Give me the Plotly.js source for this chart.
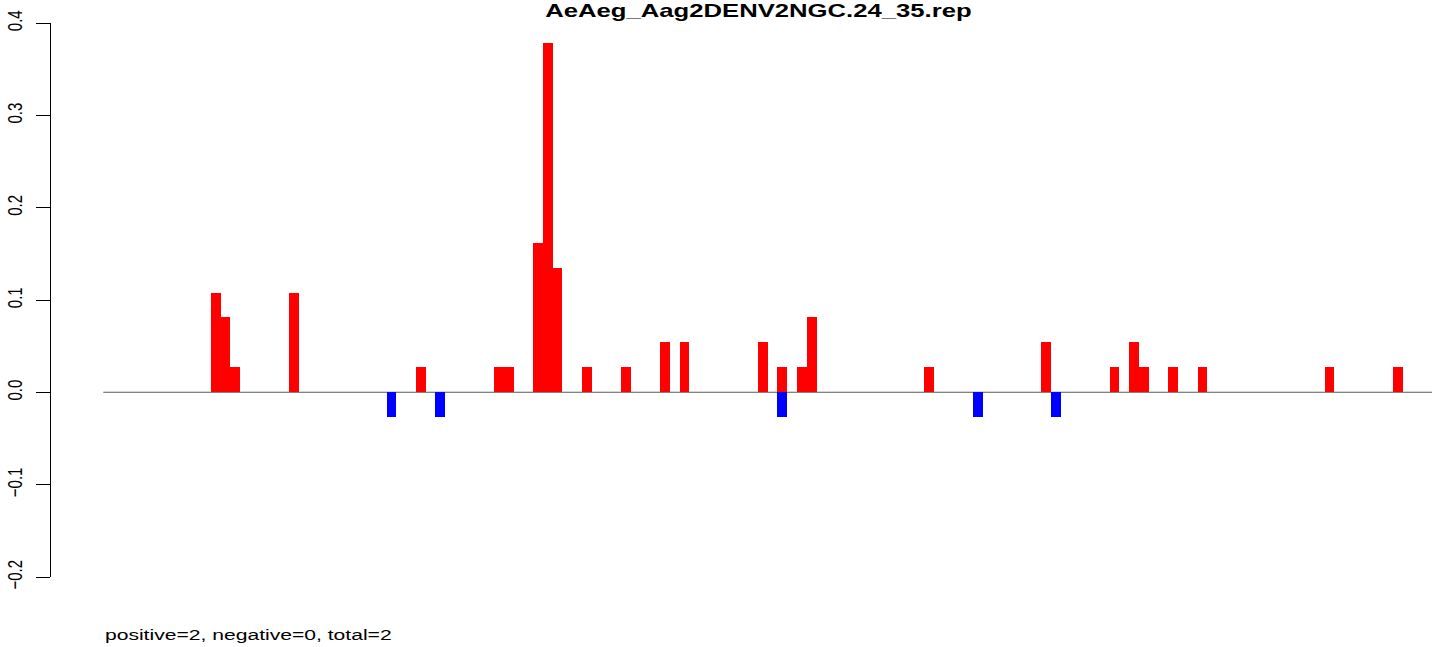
<!DOCTYPE html>
<html>
<head>
<meta charset="utf-8">
<script src="https://cdn.plot.ly/plotly-3.0.1.min.js"></script>
<style>
  html, body { margin: 0; padding: 0; background: #fff; overflow: hidden; }
  #chart { width: 1043px; height: 647px; transform-origin: 0 0; }
</style>
</head>
<body>
<div id="chart"></div>
<script>
// ---- data ----
const titleText = "AeAeg_Aag2DENV2NGC.24_35.rep";
const footText = "positive=2, negative=0, total=2";

const redPos = [12, 13, 14, 20, 33, 41, 42, 45, 46, 47, 50, 54, 58, 60, 68, 70, 72, 73, 85, 97, 104, 106, 107, 110, 113, 126, 133];
const redVal = [0.1081, 0.0811, 0.0270, 0.1081, 0.0270, 0.0270, 0.0270, 0.1622, 0.3784, 0.1351, 0.0270, 0.0270, 0.0541, 0.0541, 0.0541, 0.0270, 0.0270, 0.0811, 0.0270, 0.0541, 0.0270, 0.0541, 0.0270, 0.0270, 0.0270, 0.0270, 0.0270];

const bluePos = [30, 35, 70, 90, 98];
const blueVal = [-0.0270, -0.0270, -0.0270, -0.0270, -0.0270];

const yTickVals = [-0.2, -0.1, 0.0, 0.1, 0.2, 0.3, 0.4];
const yTickText = ["\u22120.2", "\u22120.1", "0.0", "0.1", "0.2", "0.3", "0.4"];

const baselineFrom = 0.5;
const baselineTo = 136.5;

// ---- geometry (base frame, later stretched horizontally) ----
const W = 1043, H = 647;
const K = 1439 / W;
const mL = 37, mR = 5, mT = 23, mB = 70;
const px0 = 103.3 / K, px1 = 1432 / K;
const ppu = (px1 - px0) / (baselineTo - baselineFrom);
const xMin = baselineFrom - (px0 - mL) / ppu;
const xMax = baselineTo + ((W - mR) - px1) / ppu;

const font = "Liberation Sans, Arial, Helvetica, sans-serif";

const traces = [
  { type: "bar", x: redPos, y: redVal, width: 1, marker: { color: "#ff0000", line: { width: 0 } }, hoverinfo: "x+y", showlegend: false },
  { type: "bar", x: bluePos, y: blueVal, width: 1, marker: { color: "#0000ff", line: { width: 0 } }, hoverinfo: "x+y", showlegend: false }
];

const layout = {
  width: W, height: H,
  margin: { l: mL, r: mR, t: mT, b: mB, pad: 0 },
  paper_bgcolor: "#ffffff", plot_bgcolor: "#ffffff",
  barmode: "overlay",
  bargap: 0,
  showlegend: false,
  font: { family: font, color: "#000000" },
  title: {
    text: "<b>" + titleText + "</b>",
    font: { family: font, size: 18.6, color: "#000000" },
    x: 549.7 / W, xref: "container", xanchor: "center",
    y: 1 - 10.5 / H, yref: "container", yanchor: "middle"
  },
  xaxis: { range: [xMin, xMax], visible: false, fixedrange: true },
  yaxis: {
    range: [-0.2, 0.4],
    tickmode: "array", tickvals: yTickVals, ticktext: yTickText,
    tickangle: -90,
    ticks: "outside", ticklen: 10, tickwidth: 1, tickcolor: "#000000",
    ticklabelstandoff: 4,
    showline: true, linecolor: "#000000", linewidth: 1,
    showgrid: false, zeroline: false,
    tickfont: { family: font, size: 15, color: "#000000" },
    fixedrange: true
  },
  shapes: [
    { type: "line", xref: "x", yref: "y", x0: baselineFrom, x1: baselineTo, y0: 0, y1: 0,
      line: { color: "#5a5a5a", width: 1 }, layer: "below" }
  ],
  annotations: [
    { text: footText, xref: "paper", yref: "paper",
      x: (74.4 - mL) / (W - mL - mR), y: (577 - 634) / (H - mT - mB),
      xanchor: "left", yanchor: "middle", showarrow: false,
      font: { family: font, size: 15.3, color: "#000000" } }
  ]
};

Plotly.newPlot("chart", traces, layout, { displayModeBar: false, staticPlot: true }).then(function () {
  document.getElementById("chart").style.transform = "scaleX(" + K + ")";
});
</script>
</body>
</html>
